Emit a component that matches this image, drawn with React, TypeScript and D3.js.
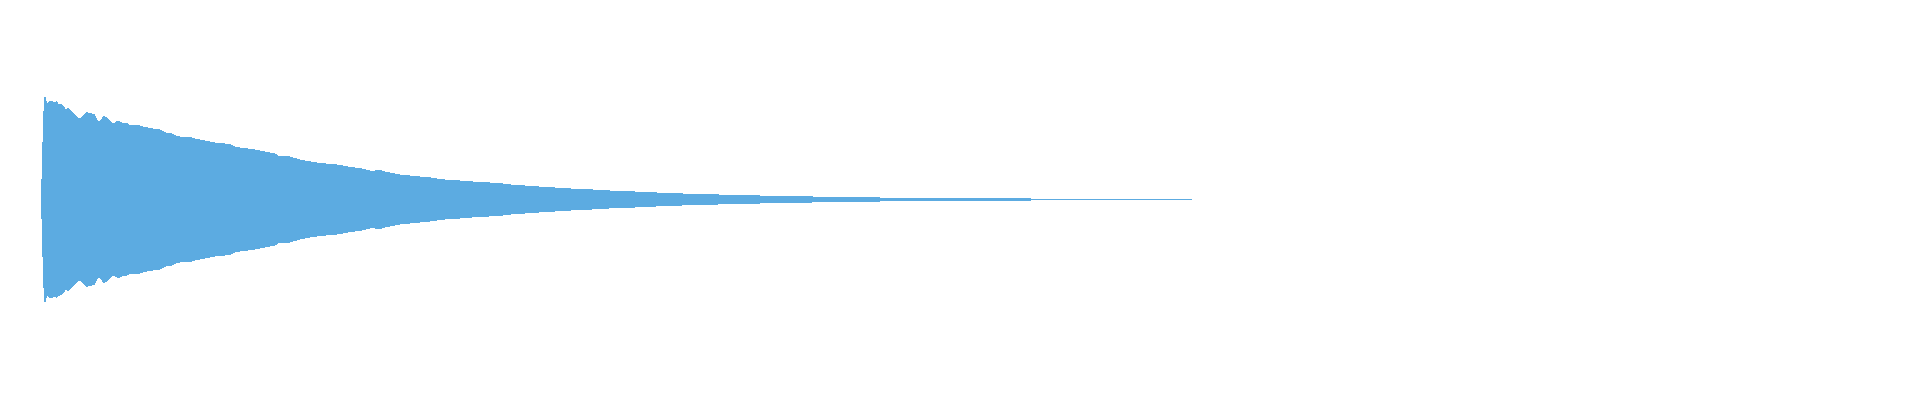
import React from "react";
import * as d3 from "d3";

// Waveform envelope: time (ms) and peak amplitude (fraction of full scale)
const timesMs = [
  0, 2, 4, 6, 8, 10, 12, 14, 16, 18, 22, 26, 30, 32, 34, 38, 42, 46, 50, 54, 58, 62, 66, 70, 74, 78,
  82, 86, 90, 94, 98, 102, 108, 112, 116, 120, 124, 128, 132, 138, 144, 148, 154, 158, 164, 170,
  176, 180, 186, 192, 198, 204, 210, 216, 222, 228, 234, 242, 252, 262, 270, 278, 288, 298, 308,
  318, 328, 338, 348, 358, 368, 378, 388, 398, 408, 418, 428, 438, 448, 458, 468, 478, 488, 498,
  508, 518, 538, 558, 578, 598, 618, 638, 658, 668, 678, 688, 698, 718, 738, 758, 778, 798, 818,
  838, 858, 878, 898, 918, 938, 958, 978, 998, 1018, 1038, 1058, 1078, 1098, 1118, 1138, 1158,
  1178, 1198, 1218, 1238, 1258, 1278, 1318, 1358, 1398, 1438, 1478, 1518, 1558, 1598, 1638, 1678,
  1728, 1834, 1976, 1980, 2302,
];

const peaks = [
  0.006, 0.238, 0.475, 0.631, 0.65, 0.631, 0.606, 0.606, 0.616, 0.616, 0.616, 0.606, 0.613, 0.619,
  0.6, 0.6, 0.594, 0.581, 0.563, 0.575, 0.563, 0.55, 0.538, 0.525, 0.513, 0.506, 0.519, 0.531,
  0.544, 0.544, 0.538, 0.538, 0.531, 0.5, 0.488, 0.5, 0.525, 0.519, 0.513, 0.494, 0.475, 0.481,
  0.494, 0.488, 0.475, 0.481, 0.469, 0.463, 0.463, 0.466, 0.463, 0.456, 0.456, 0.444, 0.447, 0.438,
  0.444, 0.431, 0.416, 0.413, 0.4, 0.394, 0.391, 0.391, 0.381, 0.375, 0.369, 0.363, 0.356, 0.353,
  0.35, 0.347, 0.331, 0.325, 0.322, 0.316, 0.313, 0.306, 0.3, 0.294, 0.288, 0.269, 0.269, 0.269,
  0.259, 0.25, 0.238, 0.228, 0.223, 0.217, 0.203, 0.197, 0.181, 0.181, 0.184, 0.175, 0.169, 0.156,
  0.15, 0.144, 0.138, 0.128, 0.122, 0.119, 0.113, 0.111, 0.106, 0.103, 0.094, 0.091, 0.084, 0.081,
  0.077, 0.073, 0.069, 0.066, 0.063, 0.061, 0.056, 0.054, 0.052, 0.048, 0.045, 0.043, 0.04, 0.038,
  0.034, 0.031, 0.028, 0.025, 0.022, 0.02, 0.018, 0.016, 0.014, 0.0125, 0.01, 0.0085, 0.0085,
  0.006, 0.006,
];

const WIDTH = 1920;
const HEIGHT = 400;
const COLOR = "#5CABE1";

export default function App() {
  const data = timesMs.map((t, i) => ({ t, p: peaks[i] }));

  const x = d3
    .scaleLinear()
    .domain([0, timesMs[timesMs.length - 1]])
    .range([41, 1192]);
  const y = d3.scaleLinear().domain([-1, 1]).range([359.5, 39.5]);

  const area = d3
    .area<{ t: number; p: number }>()
    .x((d) => x(d.t))
    .y0((d) => y(-d.p))
    .y1((d) => y(d.p))
    .curve(d3.curveLinear);

  return (
    <svg
      width={WIDTH}
      height={HEIGHT}
      style={{ position: "absolute", left: 0, top: 0, background: "#fff" }}
    >
      <path d={area(data) ?? ""} fill={COLOR} shapeRendering="crispEdges" />
    </svg>
  );
}
